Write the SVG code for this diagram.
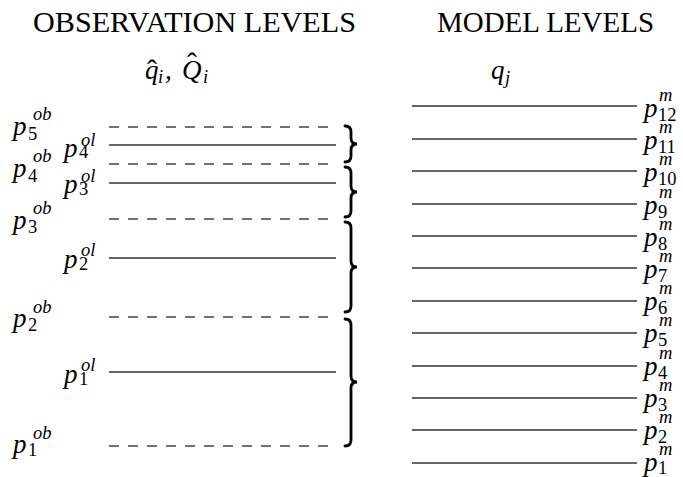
<svg xmlns="http://www.w3.org/2000/svg" width="683" height="477" viewBox="0 0 683 477">
<style>
.title{font-family:"Liberation Serif","Times New Roman",serif;font-size:28.5px;fill:#000}
.m{font-family:"Liberation Serif","Times New Roman",serif;font-style:italic;font-size:27px;fill:#000}
.s{font-family:"Liberation Serif","Times New Roman",serif;font-size:18.5px;fill:#000}
.si{font-family:"Liberation Serif","Times New Roman",serif;font-style:italic;font-size:18.5px;fill:#000}
.hat{font-family:"Liberation Serif","Times New Roman",serif;font-size:30px;fill:#000}
.dash{stroke:#444;stroke-width:1.3;stroke-dasharray:10 9;fill:none}
.solid{stroke:#333;stroke-width:1.3;fill:none}
.brace{stroke:#000;stroke-width:2.8;fill:none;stroke-linecap:round}
</style>
<rect width="683" height="477" fill="#fff"/>
<g id="titles">
<text class="title" x="33" y="32" textLength="323" lengthAdjust="spacingAndGlyphs">OBSERVATION LEVELS</text>
<text class="title" x="437" y="32" textLength="217" lengthAdjust="spacingAndGlyphs">MODEL LEVELS</text>
</g>
<g id="obs-vars">
<text class="m" x="145" y="79">q</text>
<text class="hat" x="147" y="80">ˆ</text>
<text class="si" x="158" y="83">i</text>
<text class="m" x="165" y="79">,</text>
<text class="m" x="182" y="79">Q</text>
<text class="hat" x="187" y="73">ˆ</text>
<text class="si" x="203" y="83">i</text>
</g>
<g id="model-var">
<text class="m" x="491" y="79">q</text>
<text class="si" x="505" y="84">j</text>
</g>
<g id="connectors">
<line class="dash" x1="109" y1="127" x2="336" y2="127"/>
<line class="solid" x1="109" y1="145" x2="336" y2="145"/>
<line class="dash" x1="109" y1="164" x2="336" y2="164"/>
<line class="solid" x1="109" y1="183" x2="336" y2="183"/>
<line class="dash" x1="109" y1="219" x2="336" y2="219"/>
<line class="solid" x1="109" y1="258" x2="336" y2="258"/>
<line class="dash" x1="109" y1="317" x2="336" y2="317"/>
<line class="solid" x1="109" y1="372" x2="336" y2="372"/>
<line class="dash" x1="109" y1="446" x2="336" y2="446"/>
<line class="solid" x1="412" y1="106" x2="637" y2="106"/>
<line class="solid" x1="412" y1="139" x2="637" y2="139"/>
<line class="solid" x1="412" y1="171" x2="637" y2="171"/>
<line class="solid" x1="412" y1="204" x2="637" y2="204"/>
<line class="solid" x1="412" y1="236" x2="637" y2="236"/>
<line class="solid" x1="412" y1="268" x2="637" y2="268"/>
<line class="solid" x1="412" y1="301" x2="637" y2="301"/>
<line class="solid" x1="412" y1="333" x2="637" y2="333"/>
<line class="solid" x1="412" y1="366" x2="637" y2="366"/>
<line class="solid" x1="412" y1="398" x2="637" y2="398"/>
<line class="solid" x1="412" y1="430" x2="637" y2="430"/>
<line class="solid" x1="412" y1="463" x2="637" y2="463"/>
</g>
<g id="braces">
<path class="brace" d="M345 126 Q351 126 351 132 L351 138 Q351 144 357 144 Q351 144 351 150 L351 156 Q351 162 345 162"/>
<path class="brace" d="M345 167 Q351 167 351 173 L351 186 Q351 192 357 192 Q351 192 351 198 L351 211 Q351 217 345 217"/>
<path class="brace" d="M345 222 Q351 222 351 228 L351 261 Q351 267 357 267 Q351 267 351 273 L351 306 Q351 312 345 312"/>
<path class="brace" d="M345 319 Q351 319 351 325 L351 376 Q351 382 357 382 Q351 382 351 388 L351 440 Q351 446 345 446"/>
</g>
<g id="obs-labels">
<g id="p5ob"><text class="m" x="13" y="135">p</text><text class="s" x="28" y="140">5</text><text class="si" x="33" y="120">ob</text></g>
<g id="p4ob"><text class="m" x="13" y="177">p</text><text class="s" x="28" y="182">4</text><text class="si" x="33" y="162">ob</text></g>
<g id="p3ob"><text class="m" x="13" y="229">p</text><text class="s" x="28" y="233">3</text><text class="si" x="33" y="214">ob</text></g>
<g id="p2ob"><text class="m" x="13" y="327">p</text><text class="s" x="28" y="331">2</text><text class="si" x="33" y="313">ob</text></g>
<g id="p1ob"><text class="m" x="13" y="453">p</text><text class="s" x="28" y="456">1</text><text class="si" x="33" y="439">ob</text></g>
<g id="p4ol"><text class="m" x="64" y="157">p</text><text class="s" x="79" y="158">4</text><text class="si" x="81" y="146">ol</text></g>
<g id="p3ol"><text class="m" x="64" y="193">p</text><text class="s" x="79" y="195">3</text><text class="si" x="81" y="182">ol</text></g>
<g id="p2ol"><text class="m" x="64" y="268">p</text><text class="s" x="79" y="270">2</text><text class="si" x="81" y="256">ol</text></g>
<g id="p1ol"><text class="m" x="64" y="383">p</text><text class="s" x="79" y="385">1</text><text class="si" x="81" y="371">ol</text></g>
</g>
<g id="model-labels">
<g id="pm12"><text class="m" x="644" y="117">p</text><text class="s" x="658" y="121">12</text><text class="si" x="659" y="101">m</text></g>
<g id="pm11"><text class="m" x="644" y="149">p</text><text class="s" x="658" y="153">11</text><text class="si" x="659" y="133">m</text></g>
<g id="pm10"><text class="m" x="644" y="181">p</text><text class="s" x="658" y="185">10</text><text class="si" x="659" y="165">m</text></g>
<g id="pm9"><text class="m" x="644" y="214">p</text><text class="s" x="658" y="218">9</text><text class="si" x="659" y="198">m</text></g>
<g id="pm8"><text class="m" x="644" y="246">p</text><text class="s" x="658" y="250">8</text><text class="si" x="659" y="230">m</text></g>
<g id="pm7"><text class="m" x="644" y="278">p</text><text class="s" x="658" y="282">7</text><text class="si" x="659" y="262">m</text></g>
<g id="pm6"><text class="m" x="644" y="310">p</text><text class="s" x="658" y="314">6</text><text class="si" x="659" y="294">m</text></g>
<g id="pm5"><text class="m" x="644" y="342">p</text><text class="s" x="658" y="346">5</text><text class="si" x="659" y="326">m</text></g>
<g id="pm4"><text class="m" x="644" y="375">p</text><text class="s" x="658" y="379">4</text><text class="si" x="659" y="359">m</text></g>
<g id="pm3"><text class="m" x="644" y="407">p</text><text class="s" x="658" y="411">3</text><text class="si" x="659" y="391">m</text></g>
<g id="pm2"><text class="m" x="644" y="439">p</text><text class="s" x="658" y="443">2</text><text class="si" x="659" y="423">m</text></g>
<g id="pm1"><text class="m" x="644" y="471">p</text><text class="s" x="658" y="474">1</text><text class="si" x="659" y="455">m</text></g>
</g>
</svg>
